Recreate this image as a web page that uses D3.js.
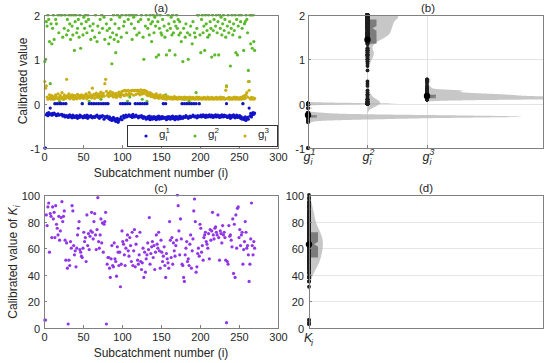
<!DOCTYPE html>
<html><head><meta charset="utf-8">
<script src="https://cdn.jsdelivr.net/npm/d3@7"></script>
<style>body{margin:0;background:#fff}svg{display:block}text{font-family:"Liberation Sans",Arial,sans-serif;fill:#262626}</style>
</head><body><svg id="c" width="550" height="363"></svg>
<script>
// ---------- DATA ----------
const xTicks = [0, 50, 100, 150, 200, 250, 300];
const gTicks = [-1, 0, 1, 2];
const kTicks = [0, 20, 40, 60, 80, 100];
const groupNames = ["1", "2", "3"];

const g1 = [
-1,-1,-0.25,-0.22,-0.27,-0.2,-0.24,-0.1,-0.23,-0.26,
-0.22,-0.25,-0.21,0,-0.24,-0.27,0,-0.23,-0.26,0,
-0.25,0,-0.24,-0.28,0,-0.26,-0.3,0,-0.27,-0.29,
-0.31,-0.27,-0.25,-0.3,-0.28,-0.32,-0.26,-0.29,-0.31,-0.28,
-0.3,-0.27,-0.33,-0.29,-0.31,-0.26,-0.3,-0.28,0,-0.32,
-0.29,-0.27,-0.31,-0.3,-0.26,-0.33,-0.28,0,-0.3,-0.27,
0,-0.32,-0.29,0,-0.31,-0.28,0,-0.26,-0.3,0,
-0.33,-0.28,0,-0.3,-0.27,0,-0.35,-0.29,0,-0.31,
-0.28,0,-0.34,-0.3,-0.36,-0.33,-0.38,-0.35,-0.31,-0.37,
-0.34,-0.4,-0.36,-0.33,-0.42,-0.38,-0.35,0,-0.3,-0.36,
0,-0.27,-0.32,0,-0.26,-0.3,0,-0.28,-0.25,0,
-0.29,-0.27,-0.31,-0.24,-0.28,-0.3,0,-0.26,-0.29,0,
-0.32,-0.28,0,-0.3,-0.27,0,-0.33,-0.29,0,-0.31,
-0.35,0,-0.3,-0.34,-0.28,-0.36,-0.32,-0.3,-0.35,-0.33,
-0.29,-0.34,-0.31,-0.36,-0.3,-0.33,-0.28,-0.35,-0.32,-0.3,
-0.34,-0.29,0,-0.33,-0.31,0,-0.36,-0.3,-0.34,-0.29,
-0.32,-0.35,-0.3,-0.33,-0.28,-0.34,-0.31,-0.36,-0.29,-0.33,
-0.3,-0.35,-0.32,-0.28,-0.34,-0.3,0,-0.33,-0.29,0,
-0.31,-0.27,0,-0.3,-0.33,0,-0.28,-0.31,0,-0.29,
-0.26,0,-0.3,-0.28,0,-0.32,-0.27,-0.3,0,-0.29,
-0.26,-0.3,-0.28,-0.25,-0.29,-0.27,-0.31,-0.26,-0.28,-0.3,
-0.27,-0.25,-0.29,-0.3,-0.26,-0.28,-0.31,-0.27,-0.29,-0.25,
-0.3,-0.28,-0.26,-0.29,-0.31,-0.27,-0.3,-0.25,-0.28,-0.3,
-0.26,-0.29,-0.27,0,-0.31,-0.28,-0.3,-0.26,-0.33,-0.29,
-0.27,-0.3,-0.25,-0.28,-0.32,-0.29,-0.26,-0.31,-0.28,-0.3,
-0.27,-0.33,-0.3,-0.35,0,-0.32,-0.36,-0.3,-0.38,-0.34,
-0.31,-0.35,-0.1,-0.28,-0.22,-0.3,-0.25,-0.2,-0.24,-0.21];

const g2 = [
0.95,1.0,1.85,1.75,2,1.9,1.4,0.45,1.8,1.35,
1.7,2,1.45,0,1.9,1.8,0,2,1.6,0.05,
2,0,2,1.5,0.1,1.7,2,0,1.55,1.9,
1.65,2,1.8,1.45,2,1.75,1.55,2,1.2,1.85,
2,1.6,1.7,1.9,1.5,2,1.25,1.8,0,1.55,
1.95,1.7,2,1.85,1.6,2,1.9,0.05,1.75,1.45,
0,1.65,1.8,0,1.5,2,0.2,1.4,1.75,0,
1.6,1.9,0.1,2,1.7,0,1.95,1.45,0,1.8,
1.65,0,1.35,1.7,1.5,1.9,0.9,1.6,2,1.45,
1.8,1.15,1.55,2,1.4,1.7,1.95,0.2,1.5,2,
0,1.75,1.85,0,2,1.6,0.05,1.9,2,0.15,
2,1.8,1.45,2,1.95,1.7,0,2,1.55,0.3,
1.85,1.6,0,1.9,2,0.1,1.5,1.0,0,1.75,
2,0.05,1.7,1.9,1.55,2,1.8,1.4,1.85,2,
1.6,1.95,1.75,1.05,2,1.85,1.1,1.7,2,1.6,
1.55,1.9,0,1.75,1.5,0.2,1.1,1.65,2,1.8,
1.2,1.7,1.95,1.55,2,1.6,1.85,1.1,1.75,2,
1.7,1.9,1.55,1.85,1.6,1.4,0,0.95,1.7,0.1,
1.5,1.8,0,1.6,1.0,0.05,1.55,1.75,0,1.35,
1.85,0,1.6,1.5,0.25,1.7,2,2,0,1.55,
1.15,1.9,2,1.6,1.75,1.2,2,1.8,1.65,1.5,
2,1.55,1.85,1.7,1.05,2,1.65,1.9,1.1,1.75,
2,1.6,1.85,1.1,2,1.7,1.95,1.55,1.8,2,
1.65,1.9,1.5,0.4,1.75,2,1.6,1.85,0.85,1.7,
2,1.55,1.8,1.65,2,1.15,1.9,1.1,1.75,2,
1.5,1.85,2,1.7,0,1.2,1.8,1.85,2,1.9,
1.6,0.75,0.5,2,1.35,2,1.25,2,1.4,1.2];

const g3 = [
0.5,0.35,0.4,0.15,0.1,0.12,0.2,0.14,0.1,0.18,
0.13,0.1,0.16,0.11,0.2,0.14,0.12,0.22,0.1,0.15,
0.18,0.12,0.25,0.14,0.1,0.2,0.16,0.12,0.55,0.18,
0.14,0.22,0.11,0.17,0.13,0.2,0.15,0.1,0.19,0.12,
0.16,0.11,0.21,0.14,0.18,0.12,0.15,0.2,0.13,0.17,
0.12,0.19,0.15,0.22,0.11,0.18,0.14,0.25,0.16,0.2,
0.13,0.35,0.17,0.21,0.12,0.19,0.24,0.15,0.2,0.14,
0.22,0.18,0.26,0.15,0.2,0.23,0.17,0.45,0.55,0.28,
0.19,0.24,0.16,0.22,0.27,0.18,0.2,0.25,0.15,0.21,
0.17,0.23,0.14,0.2,0.18,0.26,0.22,0.15,0.24,0.28,
0.2,0.29,0.18,0.3,0.22,0.29,0.19,0.3,0.23,0.2,
0.29,0.22,0.3,0.3,0.19,0.29,0.3,0.21,0.29,0.3,
0.23,0.29,0.2,0.31,0.25,0.22,0.3,0.24,0.3,0.29,
0.21,0.27,0.18,0.24,0.2,0.25,0.16,0.22,0.19,0.15,
0.2,0.13,0.17,0.22,0.14,0.18,0.12,0.16,0.2,0.13,
0.15,0.12,0.18,0.11,0.14,0.17,0.1,0.13,0.16,0.12,
0.14,0.11,0.15,0.12,0.1,0.13,0.16,0.11,0.14,0.12,
0.1,0.13,0.15,0.11,0.12,0.14,0.1,0.13,0.11,0.15,
0.12,0.1,0.14,0.11,0.13,0.12,0.15,0.1,0.13,0.11,
0.14,0.12,0.1,0.13,0.11,0.15,0.12,0.1,0.14,0.12,
0.11,0.13,0.1,0.12,0.14,0.11,0.13,0.1,0.12,0.15,
0.12,0.1,0.13,0.11,0.14,0.12,0.1,0.13,0.11,0.12,
0.14,0.1,0.12,0.13,0.11,0.15,0.1,0.12,0.14,0.11,
0.13,0.1,0.3,0.38,0.12,0.11,0.14,0.1,0.13,0.12,
0.1,0.13,0.11,0.15,0.12,0.1,0.14,0.11,0.13,0.1,
0.12,0.14,0.1,0.13,0.16,0.11,0.18,0.12,0.2,0.25,
0.15,0.5,0.3,0.12,0.1,0.14,0.11,0.13,0.1,0.12];

const K = [
6,6,85,77,91,94,57,86,84,68,
91,82,87,68,92,78,75,70,84,66,
73,83,95,80,84,88,66,51,64,45,
3,51,47,65,60,92,88,62,55,58,
46,60,70,75,80,59,57,54,53,60,
72,65,68,50,85,62,71,59,69,73,
87,72,67,80,86,70,59,74,98,65,
60,70,82,64,79,57,78,80,87,3,
48,53,53,45,38,52,62,47,46,64,
52,50,39,61,57,47,57,31,48,73,
65,63,55,47,60,66,70,58,54,68,
62,50,72,47,58,74,46,63,69,51,
48,55,72,50,44,49,60,38,57,42,
52,55,64,59,83,48,56,61,65,53,
62,44,57,70,63,60,72,58,45,66,
57,50,54,61,47,38,56,52,49,45,
80,66,53,68,48,64,58,54,62,66,
100,92,73,55,82,67,48,47,38,35,
55,60,65,50,52,47,63,70,45,58,
67,88,97,80,42,46,56,60,54,78,
75,57,62,51,68,70,72,65,63,60,
71,52,74,66,73,87,70,67,75,76,
72,70,85,68,51,73,71,64,77,70,
72,68,51,4,50,48,77,69,70,66,
61,82,41,78,38,85,60,90,91,68,
74,62,70,72,48,59,65,80,72,60,
62,55,35,48,67,94,62,55,65,60];

// ---------- STYLE ----------
const colG = ["#1212c8", "#5cba2a", "#c9ad12"];
const colK = "#9035e8";
const axisCol = "#808080";

const svg = d3.select("#c");
const defs = svg.append("defs");

// ---------- helpers ----------
function frame(x0, y0, x1, y1) {
  svg.append("rect").attr("x", x0 + 0.5).attr("y", y0 + 0.5).attr("width", x1 - x0).attr("height", y1 - y0)
    .attr("fill", "none").attr("stroke", axisCol).attr("stroke-width", 1);
}
function clip(id, x0, y0, x1, y1) {
  defs.append("clipPath").attr("id", id).append("rect").attr("x", x0).attr("y", y0).attr("width", x1 - x0).attr("height", y1 - y0);
}
function yAxis(scale, ticks, xPos, labelX) {
  const g = svg.append("g");
  ticks.forEach(t => {
    const y = Math.round(scale(t)) + 0.5;
    g.append("line").attr("x1", xPos).attr("x2", xPos + 3).attr("y1", y).attr("y2", y).attr("stroke", axisCol);
    g.append("text").attr("x", labelX).attr("y", y + 4).attr("text-anchor", "end").attr("font-size", 11).text(t);
  });
}
function xAxis(scale, ticks, yPos) {
  const g = svg.append("g");
  ticks.forEach(t => {
    const x = Math.round(scale(t)) + 0.5;
    g.append("line").attr("x1", x).attr("x2", x).attr("y1", yPos).attr("y2", yPos - 3).attr("stroke", axisCol);
    g.append("text").attr("x", x).attr("y", yPos + 13).attr("text-anchor", "middle").attr("font-size", 11).text(t);
  });
}
function subsup(x, y, base, sub, sup, size, italic) {
  const g = svg.append("g");
  const st = italic ? "italic" : "normal";
  g.append("text").attr("x", x).attr("y", y).attr("font-size", size).attr("font-style", st).text(base);
  const w = size * 0.56;
  g.append("text").attr("x", x + w).attr("y", y + size * 0.3).attr("font-size", size * 0.7).attr("font-style", st).text(sub);
  if (sup) g.append("text").attr("x", x + w).attr("y", y - size * 0.45).attr("font-size", size * 0.7).attr("font-style", st).text(sup);
  return g;
}
function kde(v, h, lo, hi, n) {
  const pts = [];
  for (let k = 0; k <= n; k++) {
    const y = lo + (hi - lo) * k / n;
    let s = 0;
    for (const x of v) { const u = (y - x) / h; s += Math.exp(-0.5 * u * u); }
    pts.push([y, s / (v.length * h * Math.sqrt(2 * Math.PI))]);
  }
  return pts;
}
function raincloud(values, cx, yScale, widthScale, h, clipId, lo, hi) {
  const g = svg.append("g").attr("clip-path", `url(#${clipId})`);
  const dens = kde(values, h, Math.max(lo, d3.min(values) - 3 * h), Math.min(hi, d3.max(values) + 3 * h), 800);
  const area = d3.area().x0(cx).x1(d => cx + widthScale * d[1]).y(d => yScale(d[0]));
  g.append("path").datum(dens).attr("d", area).attr("fill", "#b4b4b4").attr("fill-opacity", 0.75);
  const s = values.slice().sort(d3.ascending);
  const q1 = d3.quantile(s, 0.25), md = d3.quantile(s, 0.5), q3 = d3.quantile(s, 0.75);
  const nh = 1.57 * (q3 - q1) / Math.sqrt(s.length);
  const bx0 = cx + 1, bx1 = cx + 9, bxm = cx + 5;
  const poly = [[bx0, q3], [bx1, q3], [bx1, Math.min(q3, md + nh)], [bxm, md], [bx1, Math.max(q1, md - nh)], [bx1, q1], [bx0, q1]]
    .map(p => [p[0], yScale(p[1])]);
  g.append("path").attr("d", d3.line()(poly) + "Z").attr("fill", "#6e6e6e").attr("fill-opacity", 0.85);
  const gp = svg.append("g");
  gp.selectAll(null).data(values).join("circle").attr("cx", cx).attr("cy", d => yScale(d)).attr("r", 1.9).attr("fill", "#1e1e1e");
  gp.append("circle").attr("cx", cx).attr("cy", yScale(d3.mean(values))).attr("r", 3.2).attr("fill", "#000");
}

// ---------- PANEL (a) ----------
const xa = d3.scaleLinear().domain([0, 300]).range([44, 278]);
const ya = d3.scaleLinear().domain([-1, 2]).range([148, 15]);
clip("ca", 43, 14, 280, 150);
const ga = svg.append("g").attr("clip-path", "url(#ca)");
[[g2, 1], [g1, 0], [g3, 2]].forEach(([arr, si]) => {
  ga.selectAll(null).data(arr).join("circle").attr("cx", (d, i) => xa(i + 1)).attr("cy", d => ya(d)).attr("r", 1.6).attr("fill", colG[si]);
});
frame(44, 15, 278, 148);
xAxis(xa, xTicks, 148);
yAxis(ya, gTicks, 44, 40);
svg.append("text").attr("x", 161).attr("y", 12).attr("text-anchor", "middle").attr("font-size", 11.5).text("(a)");
svg.append("text").attr("x", 161).attr("y", 177).attr("text-anchor", "middle").attr("font-size", 12).text("Subcatchment number (i)");
svg.append("text").attr("transform", "translate(27,81) rotate(-90)").attr("text-anchor", "middle").attr("font-size", 12).text("Calibrated value");
// legend
svg.append("rect").attr("x", 127.5).attr("y", 125.5).attr("width", 150).attr("height", 21).attr("fill", "#fff").attr("stroke", "#333");
[146, 195, 245].forEach((lx, k) => {
  svg.append("circle").attr("cx", lx).attr("cy", 136).attr("r", 1.6).attr("fill", colG[k]);
  subsup(lx + 13, 138, "g", "i", groupNames[k], 11.5, false);
});

// ---------- PANEL (b) ----------
const xb = d3.scaleLinear().domain([1, 4.95]).range([308, 543]);
const yb = ya.copy();
clip("cb", 308, 15, 543, 148);
[0, 1].forEach(t => svg.append("line").attr("x1", 308).attr("x2", 543).attr("y1", Math.round(yb(t)) + 0.5).attr("y2", Math.round(yb(t)) + 0.5).attr("stroke", "#e3e3e3"));
[2, 3].forEach(t => svg.append("line").attr("x1", Math.round(xb(t)) + 0.5).attr("x2", Math.round(xb(t)) + 0.5).attr("y1", 15).attr("y2", 148).attr("stroke", "#e3e3e3"));
const bwB = [0.015, 0.08, 0.02];
[g1, g2, g3].forEach((arr, k) => raincloud(arr, xb(k + 1), yb, 23, bwB[k], "cb", -1, 2));
frame(308, 15, 543, 148);
yAxis(yb, gTicks, 308, 305);
[1, 2, 3].forEach(t => {
  const x = Math.round(xb(t)) + 0.5;
  svg.append("line").attr("x1", x).attr("x2", x).attr("y1", 148).attr("y2", 145).attr("stroke", axisCol);
  subsup(x - 5, 161, "g", "i", groupNames[t - 1], 12.5, true);
});
svg.append("text").attr("x", 428).attr("y", 12).attr("text-anchor", "middle").attr("font-size", 11.5).text("(b)");

// ---------- PANEL (c) ----------
const xc = xa.copy();
const yc = d3.scaleLinear().domain([0, 100]).range([328, 195]);
clip("cc", 43, 194, 280, 330);
svg.append("g").attr("clip-path", "url(#cc)").selectAll(null).data(K).join("circle")
  .attr("cx", (d, i) => xc(i + 1)).attr("cy", d => yc(d)).attr("r", 1.6).attr("fill", colK);
frame(44, 195, 278, 328);
xAxis(xc, xTicks, 328);
yAxis(yc, kTicks, 44, 40);
svg.append("text").attr("x", 161).attr("y", 192).attr("text-anchor", "middle").attr("font-size", 11.5).text("(c)");
svg.append("text").attr("x", 161).attr("y", 357).attr("text-anchor", "middle").attr("font-size", 12).text("Subcatchment number (i)");
const yl = svg.append("text").attr("transform", "translate(17,262) rotate(-90)").attr("text-anchor", "middle").attr("font-size", 12);
yl.append("tspan").text("Calibrated value of  ");
yl.append("tspan").attr("font-style", "italic").text("K");
yl.append("tspan").attr("font-style", "italic").attr("font-size", 8.5).attr("dy", 3).text("i");

// ---------- PANEL (d) ----------
const xd = d3.scaleLinear().domain([1, 4.95]).range([309, 543]);
const yd = yc.copy();
clip("cd", 309, 195, 543, 328);
[20, 40, 60, 80].forEach(t => svg.append("line").attr("x1", 309).attr("x2", 543).attr("y1", Math.round(yd(t)) + 0.5).attr("y2", Math.round(yd(t)) + 0.5).attr("stroke", "#e6e6e6"));
raincloud(K, xd(1), yd, 540, 5.5, "cd", 0, 100);
frame(309, 195, 543, 328);
yAxis(yd, kTicks, 309, 304);
svg.append("line").attr("x1", 309.5).attr("x2", 309.5).attr("y1", 328).attr("y2", 325).attr("stroke", axisCol);
subsup(304, 342, "K", "i", null, 12.5, true);
svg.append("text").attr("x", 426).attr("y", 192).attr("text-anchor", "middle").attr("font-size", 11.5).text("(d)");
</script></body></html>
